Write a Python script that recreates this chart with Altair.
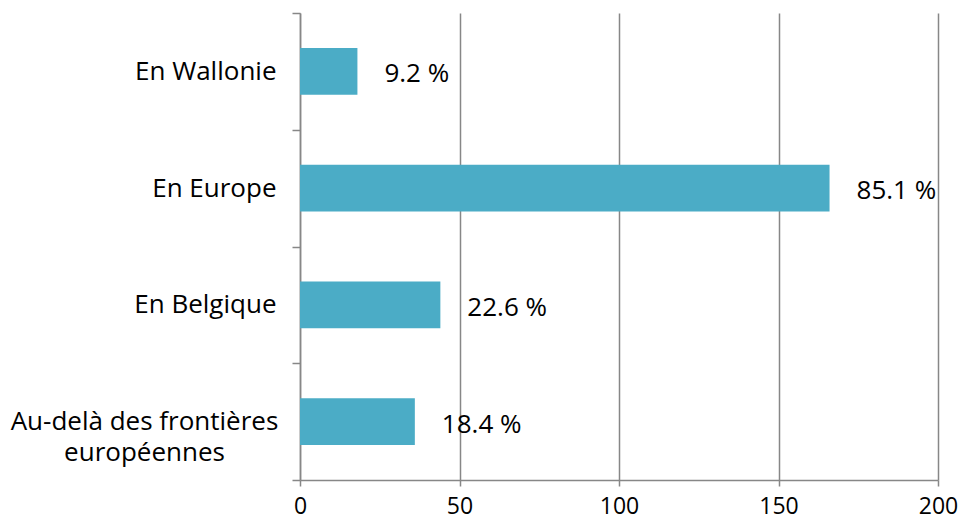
import altair as alt
import pandas as pd

categories = ["En Wallonie", "En Europe", "En Belgique", "Au-delà des frontières européennes"]
counts = [18, 166, 44, 36]
percent_labels = ["9.2 %", "85.1 %", "22.6 %", "18.4 %"]
x_ticks = [0, 50, 100, 150, 200]

df = pd.DataFrame({"cat": categories, "count": counts, "label": percent_labels})

GRAY = "#878787"
FONT = "Open Sans"
BAR = "#4BACC6"
LONG = categories[3]
test = f"datum.value == '{LONG}'"

y_axis = alt.Axis(
    title=None,
    tickBand="extent",
    domainColor=GRAY, domainWidth=1.5,
    tickColor=GRAY, tickWidth=1.5, tickSize=8,
    grid=False,
    labelFont=FONT, labelFontSize=26, labelColor="black",
    labelLineHeight=31, labelLimit=400,
    labelExpr=f"{test} ? ['Au-delà des frontières', 'européennes'] : datum.value",
    labelAlign={"condition": {"test": test, "value": "center"}, "value": "right"},
    labelPadding={"condition": {"test": test, "value": 148}, "value": 16},
)

x_axis = alt.Axis(
    title=None,
    values=x_ticks,
    grid=True, gridColor=GRAY, gridWidth=1.5,
    domainColor=GRAY, domainWidth=1.5,
    tickColor=GRAY, tickWidth=1.5, tickSize=6,
    labelFont=FONT, labelFontSize=23, labelColor="black",
    labelPadding=9, labelFlush=False,
)

base = alt.Chart(df).encode(
    y=alt.Y("cat:N", sort=categories, axis=y_axis,
            scale=alt.Scale(paddingInner=0, paddingOuter=0)),
)

bars = base.mark_bar(color=BAR, height={"band": 0.4}).encode(
    x=alt.X("count:Q", axis=x_axis, scale=alt.Scale(domain=[0, 200], nice=False)),
)

texts = base.mark_text(
    align="left", baseline="middle", dx=27, dy=3,
    font=FONT, fontSize=26, color="black",
).encode(
    x=alt.X("count:Q"),
    text="label:N",
)

chart = (
    alt.layer(bars, texts)
    .properties(
        width=638, height=467,
        autosize=alt.AutoSizeParams(type="none"),
        padding={"left": 292, "top": 5, "right": 22, "bottom": 40},
    )
    .configure_view(stroke=None)
)

chart.save("out.html", embed_options={"renderer": "svg", "actions": False})
